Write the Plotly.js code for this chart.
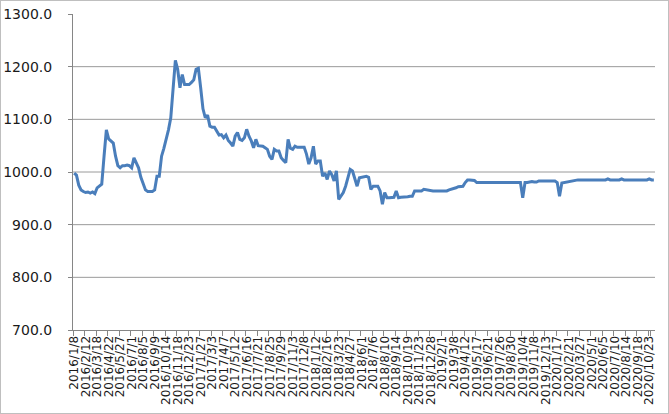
<!DOCTYPE html>
<html>
<head>
<meta charset="utf-8">
<script src="https://cdn.plot.ly/plotly-3.0.1.min.js"></script>
<style>
html,body{margin:0;padding:0;background:#fff;}
#wrap{width:669px;height:414px;box-sizing:border-box;border:1px solid #BFBFBF;}
#chart{width:667px;height:412px;}
</style>
</head>
<body>
<div id="wrap"><div id="chart"></div></div>
<script>
// Weekly category labels shown on the axis (every 5th week)
const tickLabels = [
  "2016/1/8","2016/2/12","2016/3/18","2016/4/22","2016/5/27","2016/7/1","2016/8/5","2016/9/9",
  "2016/10/14","2016/11/18","2016/12/23","2017/1/27","2017/3/3","2017/4/7","2017/5/12","2017/6/16",
  "2017/7/21","2017/8/25","2017/9/29","2017/11/3","2017/12/8","2018/1/12","2018/2/16","2018/3/23",
  "2018/4/27","2018/6/1","2018/7/6","2018/8/10","2018/9/14","2018/10/19","2018/11/23","2018/12/28",
  "2019/2/1","2019/3/8","2019/4/12","2019/5/17","2019/6/21","2019/7/26","2019/8/30","2019/10/4",
  "2019/11/8","2019/12/13","2020/1/17","2020/2/21","2020/3/27","2020/5/1","2020/6/5","2020/7/10",
  "2020/8/14","2020/9/18","2020/10/23"
];

// Weekly values
const values = [
  998,994,975,966,963,961,962,960,962,959,
  970,974,977,1030,1080,1063,1058,1055,1030,1012,
  1008,1012,1012,1013,1012,1008,1027,1018,1008,990,
  978,966,963,963,963,966,992,992,1030,1045,
  1062,1080,1103,1150,1212,1195,1160,1185,1166,1166,
  1166,1170,1175,1195,1197,1160,1120,1103,1108,1087,
  1085,1085,1076,1070,1071,1065,1070,1060,1055,1049,
  1068,1075,1062,1060,1065,1081,1068,1059,1046,1062,
  1050,1050,1049,1046,1043,1030,1024,1043,1040,1040,
  1027,1022,1018,1062,1045,1043,1049,1047,1047,1047,
  1047,1034,1015,1027,1049,1015,1021,1021,992,998,
  986,1002,995,983,1002,948,955,961,973,990,
  1005,1002,985,973,989,990,991,992,990,967,
  973,973,973,964,939,961,951,951,951,952,
  964,951,952,952,953,953,954,954,964,964,
  963,964,967,966,965,965,964,964,964,964,
  964,964,964,966,967,968,970,972,973,973,
  980,985,985,985,984,980,980,980,980,980,
  980,980,980,980,980,980,980,980,980,980,
  980,980,980,980,980,951,980,980,981,982,
  981,981,983,983,983,983,983,983,983,983,
  980,954,979,980,980,981,982,983,984,985,
  985,985,985,985,985,985,985,985,985,985,
  985,985,987,985,985,985,985,985,987,985,
  985,985,985,985,985,985,985,985,985,985,
  987,985,985
];

const startDate = "2016-01-08";
const yTicks = [700,800,900,1000,1100,1200,1300];
const gridValues = [800,900,1000,1100,1200];

// weekly category names starting at the first date
const categories = [];
const t0 = Date.parse(startDate + "T00:00:00Z");
for (let k = 0; k < values.length; k++) {
  const d = new Date(t0 + k * 7 * 86400000);
  categories.push(d.getUTCFullYear() + "/" + (d.getUTCMonth() + 1) + "/" + d.getUTCDate());
}

const trace = {
  x: categories,
  y: values,
  type: "scatter",
  mode: "lines",
  line: {color: "#4A7EBB", width: 3},
  hoverinfo: "x+y"
};

const shapes = gridValues.map(v => ({
  type: "line", xref: "paper", x0: 0, x1: 1, yref: "y", y0: v, y1: v,
  line: {color: "#9A9A9A", width: 1}, layer: "below"
}));

const layout = {
  width: 667, height: 412,
  margin: {l: 71.5, r: 13, t: 12.5, b: 83, pad: 0},
  paper_bgcolor: "#fff", plot_bgcolor: "#fff",
  showlegend: false,
  font: {family: "DejaVu Sans", color: "#1a1a1a"},
  xaxis: {
    type: "category",
    range: [-0.5, values.length - 0.5],
    tickmode: "array",
    tickvals: tickLabels,
    ticktext: tickLabels,
    tickson: "boundaries",
    tickangle: -90,
    ticks: "outside", ticklen: 5, tickcolor: "#868686", tickwidth: 1,
    showline: true, linecolor: "#868686", linewidth: 1,
    showgrid: false, zeroline: false,
    tickfont: {family: "DejaVu Sans", size: 12, color: "#1a1a1a"},
    fixedrange: true
  },
  yaxis: {
    range: [700, 1300],
    tickmode: "array",
    tickvals: yTicks,
    tickformat: ".1f",
    ticks: "outside", ticklen: 4, tickcolor: "#868686", tickwidth: 1,
    ticklabelstandoff: 13,
    showline: true, linecolor: "#868686", linewidth: 1,
    showgrid: false, zeroline: false,
    tickfont: {family: "DejaVu Sans", size: 14, color: "#1a1a1a"},
    fixedrange: true
  },
  shapes: shapes
};

Plotly.newPlot("chart", [trace], layout, {displayModeBar: false, staticPlot: true});
</script>
</body>
</html>
